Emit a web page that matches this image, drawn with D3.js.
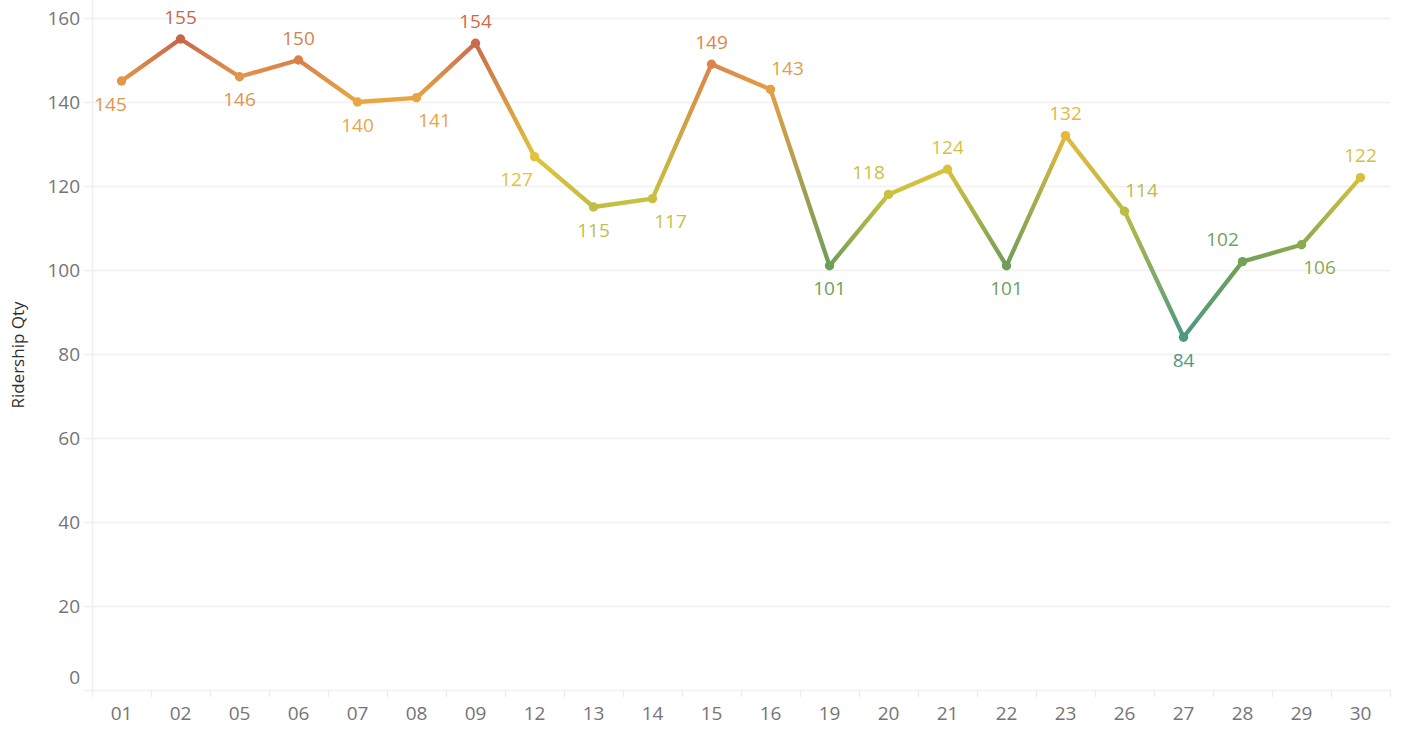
<!DOCTYPE html>
<html>
<head>
<meta charset="utf-8">
<script src="https://cdn.jsdelivr.net/npm/d3@7"></script>
<style>
  body { margin: 0; background: #fff; }
  svg text { font-family: "Open Sans", "Noto Sans", sans-serif; }
</style>
</head>
<body>
<svg id="chart" width="1408" height="730"></svg>
<script>
// days of the month shown on the x axis
const days = ["01","02","05","06","07","08","09","12","13","14","15","16",
              "19","20","21","22","23","26","27","28","29","30"];
// ridership per day
const ridership = [145,155,146,150,140,141,154,127,115,117,149,143,
                   101,118,124,101,132,114,84,102,106,122];
// where each value label sits relative to its point
const labelSide = ["bs","a","b","a","b","br","a","bl","b","br","a","ar",
                   "b","al","a","b","a","ar","b","al","br","a"];
const yTicks = [0,20,40,60,80,100,120,140,160];

const svg = d3.select("#chart");
const plotLeft = 92, plotRight = 1390, plotTop = 18, plotBottom = 690;

let x = d3.scaleBand().domain(days).range([plotLeft, plotRight]);
let y = d3.scaleLinear().domain([0, 160]).range([plotBottom, plotTop]);

// teal -> green -> yellow -> orange -> red
let color = d3.scaleLinear()
    .domain([84, 101, 116, 127, 140, 147, 155])
    .range(["#4b9a83", "#6d9f59", "#c6c042", "#e2c23b", "#e8a742", "#e0914b", "#c8664b"])
    .interpolate(d3.interpolateRgb);

let data = days.map((d, i) => ({day: d, v: ridership[i], side: labelSide[i]}));

// gridlines
svg.append("g").selectAll("line").data(yTicks).enter().append("line")
    .attr("x1", 84).attr("x2", plotRight)
    .attr("y1", d => Math.round(y(d)) + 0.5).attr("y2", d => Math.round(y(d)) + 0.5)
    .attr("stroke", "#f0f0f0").attr("stroke-width", 1.5);

// left axis line
svg.append("line")
    .attr("x1", plotLeft + 0.5).attr("x2", plotLeft + 0.5).attr("y1", 0).attr("y2", 697)
    .attr("stroke", "#f0f0f0").attr("stroke-width", 1.5);

// band separators along the bottom
svg.append("g").selectAll("line").data(days).enter().append("line")
    .attr("x1", d => Math.round(x(d) + x.bandwidth()) + 0.5)
    .attr("x2", d => Math.round(x(d) + x.bandwidth()) + 0.5)
    .attr("y1", plotBottom).attr("y2", 697)
    .attr("stroke", "#ebebeb").attr("stroke-width", 1.2);

// y tick labels
svg.append("g").selectAll("text").data(yTicks).enter().append("text")
    .attr("x", 80)
    .attr("y", d => Math.min(y(d), 677))
    .attr("dy", "0.35em")
    .attr("text-anchor", "end")
    .attr("font-size", 19)
    .attr("fill", "#757575")
    .text(d => d);

// x tick labels
svg.append("g").selectAll("text").data(days).enter().append("text")
    .attr("x", d => x(d) + x.bandwidth() / 2)
    .attr("y", 713)
    .attr("dy", "0.35em")
    .attr("text-anchor", "middle")
    .attr("font-size", 19)
    .attr("fill", "#757575")
    .text(d => d);

// axis title
svg.append("text")
    .attr("transform", "translate(24,355) rotate(-90)")
    .attr("text-anchor", "middle")
    .attr("font-size", 17)
    .attr("fill", "#2e2e2e")
    .text("Ridership Qty");

let cx = d => x(d.day) + x.bandwidth() / 2;
let cy = d => y(d.v);

// line segments, each with its own gradient
let defs = svg.append("defs");
let segs = d3.pairs(data);
segs.forEach((p, i) => {
    let g = defs.append("linearGradient")
        .attr("id", "seg" + i)
        .attr("gradientUnits", "userSpaceOnUse")
        .attr("x1", cx(p[0])).attr("y1", cy(p[0]))
        .attr("x2", cx(p[1])).attr("y2", cy(p[1]));
    g.append("stop").attr("offset", "0%").attr("stop-color", color(p[0].v));
    g.append("stop").attr("offset", "100%").attr("stop-color", color(p[1].v));
});

svg.append("g").selectAll("line").data(segs).enter().append("line")
    .attr("x1", p => cx(p[0])).attr("y1", p => cy(p[0]))
    .attr("x2", p => cx(p[1])).attr("y2", p => cy(p[1]))
    .attr("stroke", (p, i) => "url(#seg" + i + ")")
    .attr("stroke-width", 4.3)
    .attr("stroke-linecap", "round");

// points
svg.append("g").selectAll("circle").data(data).enter().append("circle")
    .attr("cx", cx).attr("cy", cy).attr("r", 4.7)
    .attr("fill", d => color(d.v));

// value labels
let offs = {
    a:  [0, -22], b:  [0, 23],
    al: [-20, -22], ar: [17, -21],
    bl: [-18, 23], br: [18, 23], bs: [-11, 23]
};
svg.append("g").selectAll("text").data(data).enter().append("text")
    .attr("x", d => cx(d) + offs[d.side][0])
    .attr("y", d => cy(d) + offs[d.side][1])
    .attr("dy", "0.35em")
    .attr("text-anchor", "middle")
    .attr("font-size", 19)
    .attr("fill", d => color(d.v))
    .text(d => d.v);
</script>
</body>
</html>
